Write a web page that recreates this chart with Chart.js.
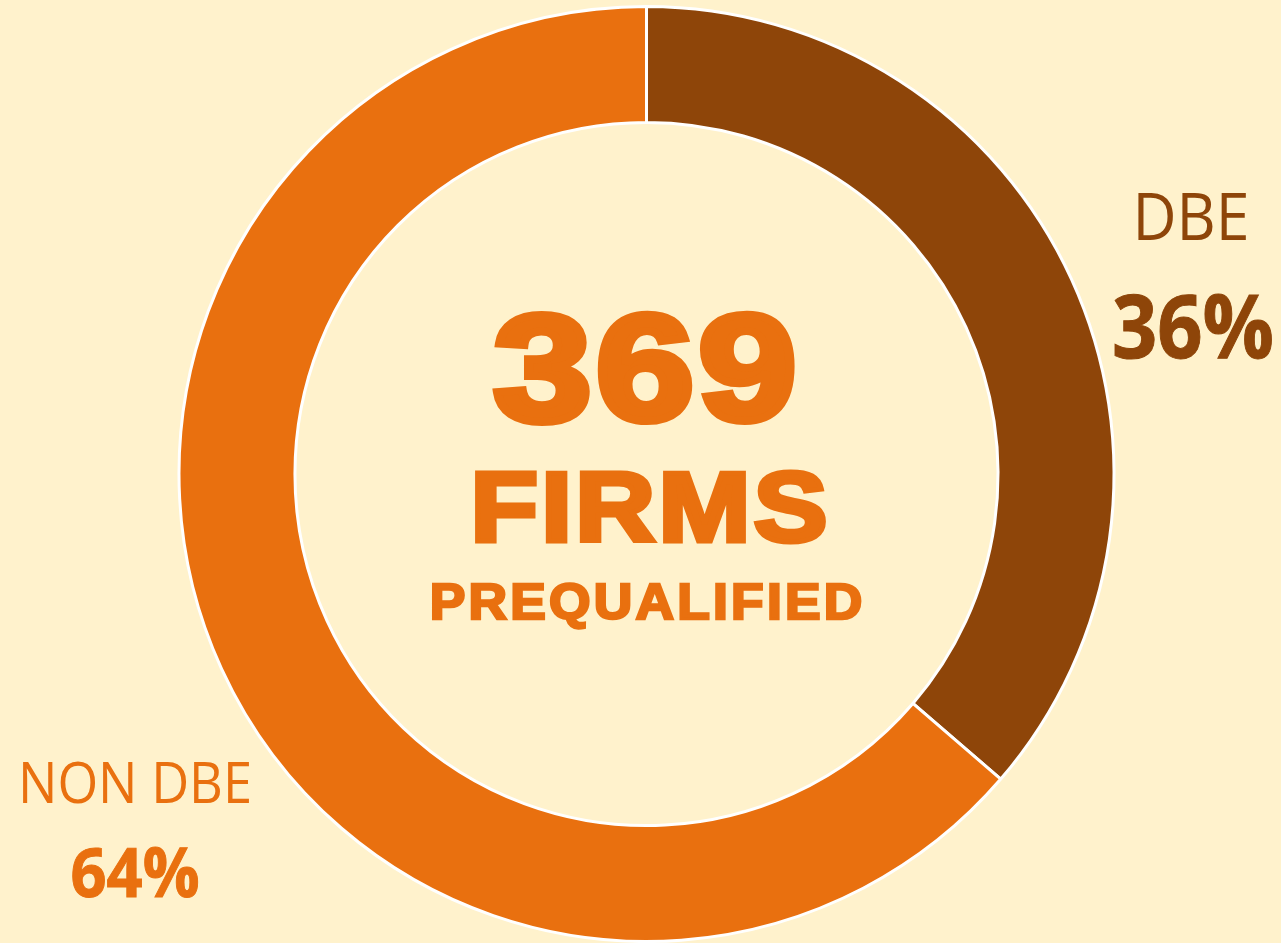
<!DOCTYPE html>
<html>
<head>
<meta charset="utf-8">
<script src="https://cdn.jsdelivr.net/npm/chart.js@4/dist/chart.umd.min.js"></script>
<style>
  html, body { margin: 0; padding: 0; background: #FFF2CC; }
  #wrap { width: 1281px; height: 943px; position: relative; }
</style>
</head>
<body>
<div id="wrap"><canvas id="graph"></canvas></div>
<script>
var labels = ['DBE', 'NON DBE'];
var firms = [134, 235];
var sliceColors = ['#8E4509', '#E9700F'];

var totalFirms = firms[0] + firms[1];
function pct(i) { return Math.round(firms[i] / totalFirms * 100) + '%'; }

// draw text so its caps fill a box: centre x, baseline, width, cap height
// an optional stroke makes the glyphs heavier (Arial Black look)
function boxText(ctx, txt, cx, base, w, cap, family, weight, color, capRatio, stroke, gap) {
  stroke = stroke || 0;
  gap = gap || 0;
  var size = (cap - stroke) / capRatio;
  ctx.save();
  ctx.font = weight + ' ' + size + 'px ' + family;
  ctx.letterSpacing = gap + 'px';
  ctx.fillStyle = color;
  ctx.strokeStyle = color;
  ctx.lineJoin = 'miter';
  ctx.miterLimit = 3;
  ctx.textBaseline = 'alphabetic';
  ctx.textAlign = 'left';
  var mw = ctx.measureText(txt).width - gap;
  var sx = (w - stroke) / mw;
  ctx.translate(cx - (w - stroke) / 2, base - stroke / 2);
  ctx.scale(sx, 1);
  ctx.fillText(txt, 0, 0);
  if (stroke) {
    ctx.lineWidth = stroke;
    ctx.strokeText(txt, 0, 0);
  }
  ctx.restore();
}

var textPlugin = {
  id: 'texts',
  afterDraw: function(chart) {
    var ctx = chart.ctx;
    var heavy = '"Liberation Sans", Arial, sans-serif';
    var soft = '"Open Sans", sans-serif';
    boxText(ctx, String(totalFirms), 645, 424, 311, 118, heavy, 'bold', '#E9700F', 0.729, 8, 4);
    boxText(ctx, 'FIRMS', 649, 543, 362, 77, heavy, 'bold', '#E9700F', 0.729, 5, 3);
    boxText(ctx, 'PREQUALIFIED', 646, 620, 435, 39, heavy, 'bold', '#E9700F', 0.729, 2.5, 3);

    boxText(ctx, labels[0], 1191, 240, 117, 47, soft, 'normal', sliceColors[0], 0.714);
    boxText(ctx, pct(0), 1193, 358, 163, 64, soft, 'bold', sliceColors[0], 0.714, 1);
    boxText(ctx, labels[1], 135, 803, 234, 41, soft, 'normal', sliceColors[1], 0.714);
    boxText(ctx, pct(1), 135, 897, 130, 50, soft, 'bold', sliceColors[1], 0.714, 1);
  }
};

var config = {
  type: 'doughnut',
  data: {
    labels: labels,
    datasets: [{
      data: firms,
      backgroundColor: sliceColors,
      borderColor: '#FFFFFF',
      borderWidth: 3
    }]
  },
  options: {
    responsive: true,
    maintainAspectRatio: false,
    animation: false,
    cutout: '75.2%',
    layout: { padding: { top: 5, bottom: 0, left: 12, right: 0 } },
    plugins: {
      legend: { display: false },
      tooltip: { enabled: false }
    }
  },
  plugins: [textPlugin]
};

var myDoughnutChart = new Chart(document.getElementById('graph'), config);
</script>
</body>
</html>
